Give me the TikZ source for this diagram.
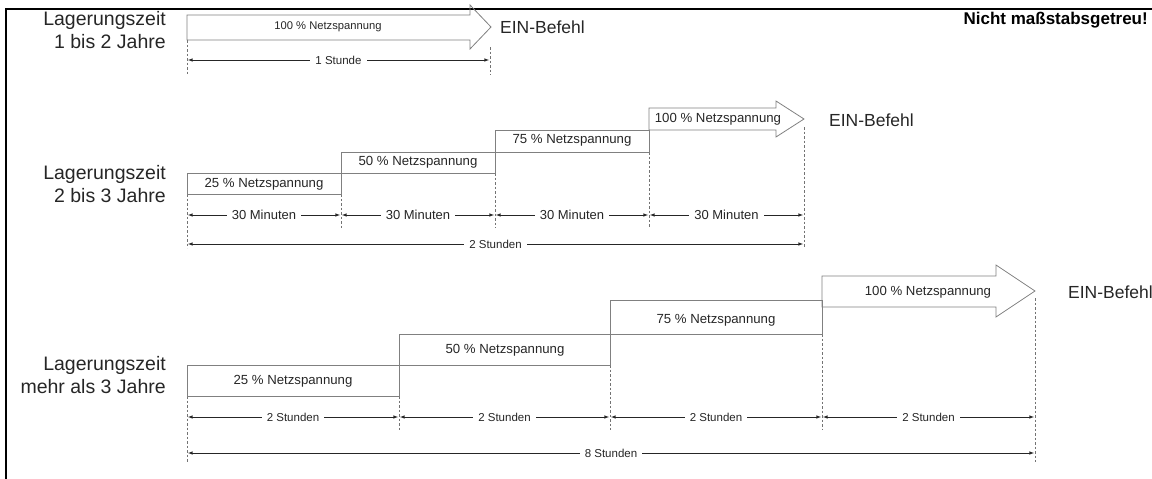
\documentclass[tikz,border=0pt]{standalone}
\usepackage{fontspec}
\setmainfont{Liberation Sans}
\usetikzlibrary{arrows, calc}

\tikzset{
  stepbox/.style={draw=black!50, line width=0.8pt},
  steptext/.style={text=black!85, inner sep=0pt, font=\fontsize{13.2}{15}\selectfont},
  guide/.style={draw=black!55, line width=0.7pt, dash pattern=on 2.5pt off 2pt},
  dimline/.style={<->, >=latex, line width=0.6pt, draw=black!85},
  dimtext/.style={fill=white, inner sep=5pt, text=black!85, font=\fontsize{11.5}{13}\selectfont},
  agelabel/.style={anchor=east, align=right, inner sep=0pt, text=black!85, font=\fontsize{19.5}{23}\selectfont},
  einlabel/.style={anchor=west, inner sep=0pt, text=black!85, font=\fontsize{17.5}{20}\selectfont},
}

\begin{document}
\begin{tikzpicture}[x=1pt, y=-1pt]
    \useasboundingbox (0,0) rectangle (1152,479);
    % frame
    \draw[line width=1.6pt] (1152,9) -- (6,9) -- (6,479);
    \node[anchor=east, inner sep=0pt, font=\bfseries\fontsize{17}{20}\selectfont] (hint) at (1148,20) {Nicht maßstabsgetreu!};

    % 1 bis 2 Jahre
    \node[agelabel] (age1) at (166,30) {Lagerungszeit\\1 bis 2 Jahre};
    \foreach \x/\y in {187/40, 490/47}
        \draw[guide] (\x,\y) -- (\x,75);
    \draw[stepbox] (187,15) -- (470,15) -- (470,5) -- (491,27) -- (470,49) -- (470,40) -- (187,40) -- cycle;
    \node[steptext, font=\fontsize{11.2}{13}\selectfont] (a100) at (328,27) {100 \% Netzspannung};
    \node[einlabel] (ein1) at (500,27) {EIN-Befehl};
    \coordinate (a0) at (188,60);
    \coordinate (a1) at (489,60);
    \draw[dimline] (a0) -- (a1) node[dimtext, midway] (t1) {1 Stunde};

    % 2 bis 3 Jahre
    \node[agelabel] (age2) at (166,184) {Lagerungszeit\\2 bis 3 Jahre};
    \foreach \x/\y/\z in {187/194/248, 341/194/228, 495/173/228, 649/152/228, 804/127/248}
        \draw[guide] (\x,\y) -- (\x,\z);
    \draw[stepbox] (187,173) rectangle (341,194);
    \draw[stepbox] (341,152) rectangle (495,173);
    \draw[stepbox] (495,130) rectangle (649,152);
    \draw[stepbox] (649,108) -- (776,108) -- (776,101) -- (804,119) -- (776,137) -- (776,130) -- (649,130) -- cycle;
    \node[steptext] (b25) at (264,184) {25 \% Netzspannung};
    \node[steptext] (b50) at (418,162) {50 \% Netzspannung};
    \node[steptext] (b75) at (572,140) {75 \% Netzspannung};
    \node[steptext] (b100) at (718,119) {100 \% Netzspannung};
    \node[einlabel] (ein2) at (829,120) {EIN-Befehl};
    \foreach \i/\x in {0/187, 1/341, 2/495, 3/649, 4/804}
        \coordinate (m\i) at (\x,215);
    \foreach \i/\j in {0/1, 1/2, 2/3, 3/4}
        \draw[dimline, shorten <=1pt, shorten >=1pt] (m\i) -- (m\j)
            node[dimtext, midway, font=\fontsize{13}{15}\selectfont] {30 Minuten};
    \coordinate (b0) at (188,244);
    \coordinate (b1) at (803,244);
    \draw[dimline] (b0) -- (b1) node[dimtext, midway] (t2) {2 Stunden};

    % mehr als 3 Jahre
    \node[agelabel] (age3) at (166,375) {Lagerungszeit\\mehr als 3 Jahre};
    \foreach \x/\y/\z in {187/396/462, 399/396/430, 610/365/430, 822/334/430, 1035/298/462}
        \draw[guide] (\x,\y) -- (\x,\z);
    \draw[stepbox] (187,365) rectangle (399,396);
    \draw[stepbox] (399,334) rectangle (610,365);
    \draw[stepbox] (610,300) rectangle (822,334);
    \draw[stepbox] (822,276) -- (996,276) -- (996,265) -- (1035,291) -- (996,317) -- (996,307) -- (822,307) -- cycle;
    \node[steptext] (c25) at (293,381) {25 \% Netzspannung};
    \node[steptext] (c50) at (505,350) {50 \% Netzspannung};
    \node[steptext] (c75) at (716,320) {75 \% Netzspannung};
    \node[steptext] (c100) at (928,292) {100 \% Netzspannung};
    \node[einlabel] (ein3) at (1068,292) {EIN-Befehl};
    \foreach \i/\x in {0/187, 1/399, 2/610, 3/822, 4/1035}
        \coordinate (h\i) at (\x,417);
    \foreach \i/\j in {0/1, 1/2, 2/3, 3/4}
        \draw[dimline, shorten <=1pt, shorten >=1pt] (h\i) -- (h\j)
            node[dimtext, midway] {2 Stunden};
    \coordinate (c0) at (188,453);
    \coordinate (c1) at (1034,453);
    \draw[dimline] (c0) -- (c1) node[dimtext, midway] (t3) {8 Stunden};
\end{tikzpicture}
\end{document}
